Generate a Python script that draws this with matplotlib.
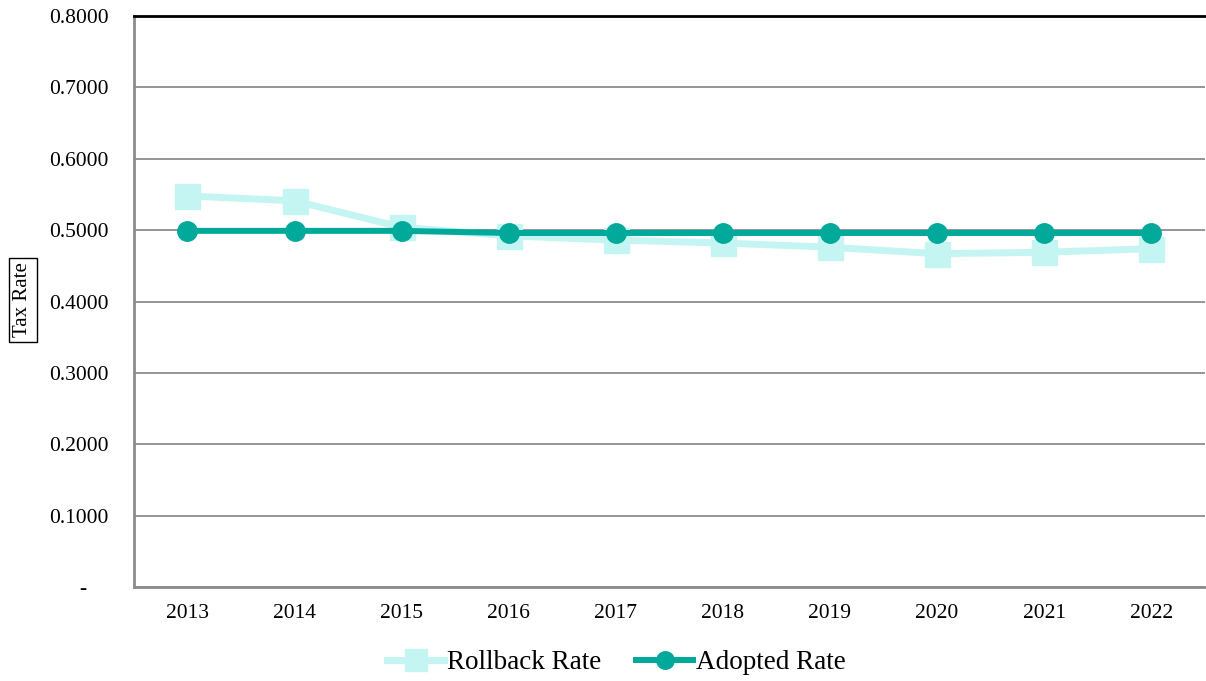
import matplotlib
matplotlib.use("Agg")
import matplotlib.pyplot as plt
from matplotlib.ticker import FuncFormatter

years = ["2013", "2014", "2015", "2016", "2017", "2018", "2019", "2020", "2021", "2022"]
rollback_rate = [0.548, 0.541, 0.504, 0.492, 0.486, 0.482, 0.476, 0.467, 0.469, 0.474]
adopted_rate = [0.499, 0.499, 0.499, 0.496, 0.496, 0.496, 0.496, 0.496, 0.496, 0.496]
y_ticks = [0.0, 0.1, 0.2, 0.3, 0.4, 0.5, 0.6, 0.7, 0.8]

plt.rcParams["font.family"] = ["Liberation Serif", "DejaVu Serif"]

fig = plt.figure(figsize=(12.06, 6.81), dpi=100)
ax = fig.add_axes([0.111, 0.138, 0.888, 0.8385])

x = list(range(len(years)))
ax.plot(x, rollback_rate, color="#C4F5F2", lw=5, marker="s", ms=18,
        label="Rollback Rate", zorder=3)
ax.plot(x, adopted_rate, color="#00A99A", lw=4.3, marker="o", ms=14,
        label="Adopted Rate", zorder=4)


def rate_label(v, pos):
    # accounting style: zero shown as a dash set in from the right edge
    return "-    " if abs(v) < 1e-9 else f"{v:.4f}"


ax.set_xlim(-0.5, len(years) - 0.5)
ax.set_ylim(0, 0.8)
ax.set_yticks(y_ticks)
ax.yaxis.set_major_formatter(FuncFormatter(rate_label))
ax.set_xticks(x)
ax.set_xticklabels(years)
ax.tick_params(axis="both", length=0, labelsize=15.5)
ax.tick_params(axis="y", pad=18)
ax.tick_params(axis="x", pad=12)

ax.grid(axis="y", color="#8C8C8C", lw=1.3, zorder=1)
ax.set_axisbelow(True)
for side in ("left", "bottom"):
    ax.spines[side].set_color("#8C8C8C")
    ax.spines[side].set_linewidth(2)
ax.spines["top"].set_color("black")
ax.spines["top"].set_linewidth(2)
ax.spines["right"].set_visible(False)

fig.text(0.019, 0.56, "Tax Rate", rotation=90, fontsize=15, ha="center", va="center",
         bbox=dict(boxstyle="square,pad=0.22", fc="white", ec="black", lw=1))

leg = fig.legend(loc="center", bbox_to_anchor=(0.511, 0.027), ncol=2, frameon=False,
                 fontsize=19.5, handlelength=2.1, handletextpad=0.1, columnspacing=1.3,
                 markerscale=0.9)

fig.savefig("out.png", dpi=100)
